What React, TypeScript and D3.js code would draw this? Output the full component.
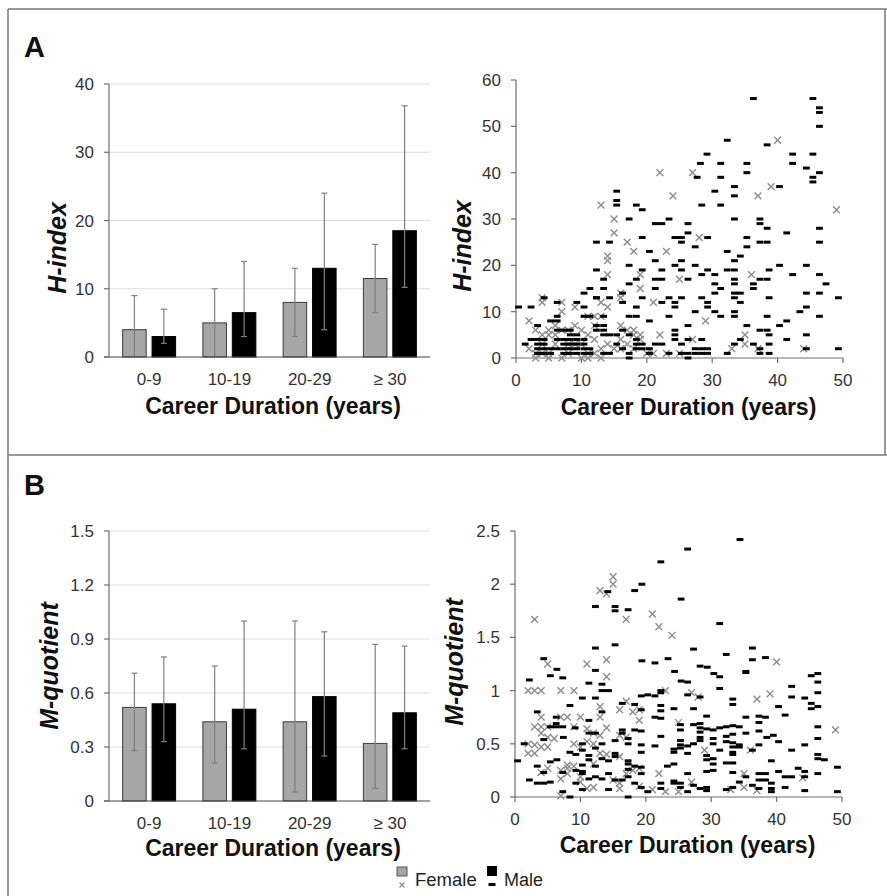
import React from 'react';
import * as d3 from 'd3';

const categories = ['0-9', '10-19', '20-29', '≥ 30'];

// panel A bars: H-index
const hFemale = [4, 5, 8, 11.5];
const hFemaleLow = [0, 0, 3, 6.5];
const hFemaleHigh = [9, 10, 13, 16.5];
const hMale = [3, 6.5, 13, 18.5];
const hMaleLow = [2, 3, 4, 10.2];
const hMaleHigh = [7, 14, 24, 36.8];

// panel B bars: M-quotient
const mFemale = [0.52, 0.44, 0.44, 0.32];
const mFemaleLow = [0.28, 0.21, 0.05, 0.07];
const mFemaleHigh = [0.71, 0.75, 1.0, 0.87];
const mMale = [0.54, 0.51, 0.58, 0.49];
const mMaleLow = [0.33, 0.29, 0.25, 0.29];
const mMaleHigh = [0.8, 1.0, 0.94, 0.86];

const hTicks = [0, 10, 20, 30, 40];
const mTicks = [0, 0.3, 0.6, 0.9, 1.2, 1.5];
const hScatterTicks = [0, 10, 20, 30, 40, 50, 60];
const mScatterTicks = [0, 0.5, 1, 1.5, 2, 2.5];
const durationTicks = [0, 10, 20, 30, 40, 50];

// scatter A: [career duration, H-index]
const hScatterMale: [number, number][] = [
  [36.3,56],[45.4,56],[46.4,54],[46.4,53],[46.4,50],[32.3,47],[38.4,46],[29.2,44],[42.3,44],[42.3,42],[45.4,44],[28.2,42],
  [31.3,42],[31.3,39],[35.3,42],[35.3,40],[44.4,41],[45.4,39],[45.4,38],[46.4,40],[27.7,39],[40.3,37],[33.4,37],[33.4,35],
  [30.4,36],[15.4,36],[15.4,34],[15.4,33],[28.4,33],[31.3,33],[18.4,33],[19.3,32],[23.4,30],[17.3,30],[33.4,30],[37.3,30],
  [37.3,29],[38.4,28],[46.4,28],[21.3,29],[22.3,29],[26.3,29],[41.4,27],[26.3,27],[24.3,26],[25.3,26],[25.3,25],[19.3,26],
  [29.3,26],[35.3,26],[35.3,24],[12.3,25],[14.3,25],[37.3,25],[38.4,25],[46.4,25],[27.4,24],[20.4,23],[32.3,23],[34.3,22],
  [33.4,21],[21.3,21],[25.3,21],[40.3,20],[44.4,20],[17.3,20],[24.3,20],[27.4,20],[12.3,19],[19.3,19],[22.3,19],[29.3,19],
  [32.3,19],[33.4,19],[38.7,19],[25.3,19],[21.3,17],[22.3,17],[26.3,17],[28.4,18],[30.4,18],[37.3,17],[38.4,17],[46.4,18],
  [42.3,18],[13.4,17],[18.4,17],[36.3,16],[47.4,16],[30.4,16],[31.3,15],[33.4,17],[33.4,16],[17.3,16],[36.3,15],[11.3,15],
  [21.3,15],[33.4,14],[34.3,14],[30.4,14],[46.4,14],[16.3,14],[10.4,14],[44.4,14],[12.3,13],[14.3,13],[19.3,13],[23.4,13],
  [25.3,13],[33.4,13],[38.7,13],[49.3,13],[16.3,12],[22.3,12],[24.3,12],[24.3,11],[34.3,12],[28.4,13],[29.3,12],[29.3,11],
  [2.3,11],[0.4,11],[10.4,11],[44.4,11],[18.4,11],[30.4,10],[27.4,10],[43.4,10],[31.3,9],[33.4,10],[33.4,9],[23.4,9],
  [46.4,9],[18.4,9],[17.3,9],[38.4,9],[20.4,8],[13.4,9],[11.3,9],[41.4,8],[40.3,7],[26.3,7],[35.3,7],[37.3,6],[38.4,6],
  [41.4,4],[38.7,5],[38.7,3],[44.4,5],[24.3,6],[24.3,5],[24.3,4],[25.3,3],[26.3,4],[28.4,4],[34.3,4],[32.3,1],[33.4,3],
  [36.3,3],[37.3,2],[37.3,1],[38.7,1],[49.3,2],[44.4,2],[27.4,2],[27.4,1],[28.4,1],[29.3,1],[28.4,2],[29.3,2],[25.3,1],
  [26.3,1],[26.3,0],[21.3,3],[22.3,3],[20.4,2],[20.4,1],[23.4,1],
  [1.4,3],[2.3,4],[3.3,2],[3.3,1],[3.3,3],[3.3,4],[3.3,7],[4.3,4],[4.3,3],[4.3,2],[4.3,1],[4.3,13],[5.3,2],[5.3,1],
  [6.3,2],[6.3,4],[6.3,8],[6.3,9],[7.3,3],[7.3,4],[7.3,2],[7.3,1],[6.3,12],[8.3,5],[8.3,6],[8.3,4],[8.3,3],[8.3,2],
  [8.3,1],[9.3,5],[9.3,4],[9.3,3],[9.3,2],[9.3,1],[10.4,4],[10.4,3],[10.4,2],[10.4,1],[11.3,1],[11.3,2],[10.4,9],
  [12.3,7],[12.3,6],[13.4,7],[13.4,6],[13.4,5],[13.4,1],[14.3,5],[14.3,1],[15.4,5],[15.4,3],[16.3,6],[16.3,2],[17.3,5],
  [17.3,1],[17.3,0],[18.4,4],[18.4,3],[18.4,2],[19.3,3],[19.3,2],[6.3,6],[7.3,6],[5.3,8],[9.3,12],[12.3,13],[13.4,15],
];
const hScatterFemale: [number, number][] = [
  [40,47],[22,40],[27,40],[39,37],[24,35],[37,35],[13,33],[49,32],[15,30],[15,27],[17,25],[28,26],[18,23],[23,23],
  [14,22],[14,21],[14,18],[36,18],[19,18],[25,17],[19,15],[16,14],[16,13],[21,12],[4,13],[4,12],[7,12],[14,11],
  [13,12],[9,11],[7,10],[2,8],[11,9],[13,9],[12,9],[29,8],[22,5],[35,5],[35,3],[27,4],[33,2],[37,2],[44,2],[23,1],
  [25,1],[2,2],[3,1],[3,0],[3,6],[4,3],[4,1],[5,5],[5,6],[5,1],[6,7],[6,3],[7,6],[7,0],[8,6],[8,1],[9,7],[9,3],
  [10,6],[10,0],[11,5],[11,1],[12,4],[12,7],[13,2],[13,0],[14,3],[16,4],[16,2],[17,6],[17,3],[18,6],[18,2],[19,5],
  [19,4],[16,7],[20,1],[21,1],[11,0],[5,0],[4,5],[6,5],[8,3],[10,3],[12,1],[15,2],[18,5],
];

// scatter B: [career duration, M-quotient]
const mScatterMale: [number, number][] = [
  [34.4,2.42],[26.4,2.33],[22.3,2.21],[19.4,2.0],[18.3,1.94],[14.2,1.93],[25.4,1.86],[12.3,1.79],[15.3,1.79],[15.3,1.75],
  [17.3,1.76],[31.3,1.63],[15.3,1.43],[12.3,1.4],[27.3,1.39],[36.3,1.4],[36.3,1.29],[32.3,1.34],[38.3,1.31],[23.4,1.3],
  [19.4,1.28],[21.4,1.26],[4.4,1.3],[12.3,1.19],[35.3,1.18],[35.3,1.17],[28.3,1.23],[29.4,1.22],[30.4,1.16],[31.3,1.13],
  [24.4,1.18],[46.3,1.16],[45.3,1.14],[46.3,1.08],[25.4,1.09],[26.4,1.08],[5.4,1.14],[6.4,1.2],[7.3,1.12],[2.2,1.1],
  [11.3,1.07],[13.3,1.06],[13.3,1.0],[14.3,1.0],[31.3,1.02],[42.3,1.04],[22.3,1.0],[22.3,0.98],[46.3,0.98],[19.3,0.95],
  [21.4,0.95],[20.3,0.96],[26.4,0.96],[28.3,0.94],[33.3,0.92],[33.3,0.87],[42.3,0.94],[44.3,0.93],[10.3,0.93],[12.3,0.93],
  [8.4,0.86],[45.3,0.88],[45.3,0.83],[46.3,0.85],[16.4,0.88],[24.3,0.83],[27.3,0.83],[22.3,0.86],[22.3,0.81],[18.3,0.87],
  [19.3,0.82],[40.3,0.85],[13.3,0.8],[3.4,0.8],[41.3,0.77],[29.3,0.76],[37.3,0.76],[38.3,0.75],[35.3,0.75],[6.3,0.75],
  [11.3,0.72],[21.4,0.75],[22.3,0.74],[37.3,0.7],[28.3,0.69],[27.3,0.68],[6.3,0.69],[6.3,0.66],[7.3,0.66],[5.4,0.66],
  [33.3,0.67],[34.3,0.66],[46.3,0.66],[30.3,0.63],[29.3,0.64],[18.3,0.63],[19.3,0.62],[25.3,0.68],[25.3,0.63],[28.3,0.65],
  [28.3,0.61],[31.3,0.65],[32.3,0.66],[9.2,0.65],[12.3,0.6],[11.3,0.6],[37.3,0.62],[35.3,0.6],[22.3,0.57],[16.4,0.6],
  [16.4,0.63],[39.5,0.58],[38.5,0.56],[15.3,0.53],[40.3,0.52],[46.3,0.55],[33.3,0.59],[32.3,0.57],[32.3,0.52],[33.3,0.51],
  [30.3,0.55],[30.3,0.5],[28.3,0.56],[28.3,0.53],[27.3,0.5],[25.3,0.53],[25.3,0.49],[25.3,0.46],[26.4,0.48],[26.4,0.41],
  [24.3,0.45],[24.3,0.42],[21.4,0.48],[19.3,0.49],[19.3,0.42],[17.3,0.55],[17.3,0.5],[13.3,0.5],[4.4,0.54],[1.4,0.5],
  [7.4,0.56],[10.3,0.5],[10.3,0.44],[12.3,0.46],[15.3,0.41],[15.3,0.38],[37.3,0.49],[31.3,0.44],[33.3,0.47],[33.3,0.42],
  [33.3,0.4],[34.3,0.49],[34.3,0.47],[36.3,0.44],[42.3,0.44],[44.3,0.49],[46.3,0.4],[46.3,0.36],[47.3,0.35],[39.2,0.34],
  [49.3,0.28],[30.3,0.36],[30.3,0.31],[29.3,0.39],[29.3,0.35],[32.3,0.32],[33.3,0.32],[24.3,0.31],[23.3,0.29],[19.3,0.28],
  [18.3,0.29],[17.3,0.34],[17.3,0.31],[14.3,0.34],[13.3,0.36],[11.3,0.39],[11.3,0.35],[9.3,0.4],[8.4,0.42],[6.4,0.35],
  [5.4,0.33],[3.4,0.29],[0.4,0.34],[12.3,0.29],[40.3,0.24],[43.3,0.27],[44.3,0.24],[44.3,0.19],[46.3,0.22],[38.3,0.22],
  [37.3,0.22],[33.3,0.23],[30.3,0.25],[29.3,0.24],[26.4,0.22],[19.3,0.22],[17.3,0.26],[17.3,0.19],[14.3,0.22],[10.3,0.3],
  [10.3,0.24],[10.3,0.22],[9.3,0.25],[7.3,0.23],[4.4,0.23],[4.4,0.13],[3.4,0.13],[2.2,0.16],[5.4,0.14],[41.3,0.19],
  [42.3,0.19],[38.3,0.16],[37.3,0.16],[39.2,0.13],[39.2,0.08],[39.2,0.05],[41.3,0.09],[44.3,0.06],[49.3,0.05],[35.3,0.19],
  [34.3,0.14],[36.3,0.11],[37.3,0.08],[32.3,0.07],[33.3,0.09],[29.3,0.09],[29.3,0.06],[27.3,0.11],[28.3,0.08],[25.3,0.13],
  [25.3,0.09],[26.4,0.05],[24.3,0.15],[24.3,0.13],[22.3,0.13],[22.3,0.08],[20.3,0.05],[19.3,0.09],[18.3,0.13],[16.4,0.16],
  [14.3,0.07],[15.3,0.16],[13.3,0.17],[12.3,0.19],[10.3,0.07],[11.3,0.17],[8.4,0.0],[7.3,0.05],[17.3,0.0],[9.3,0.13],
];
const mScatterFemale: [number, number][] = [
  [15,2.07],[15,2.0],[13,1.94],[14,1.91],[3,1.67],[17,1.67],[21,1.72],[22,1.6],[24,1.52],[14,1.29],[5,1.25],[11,1.25],
  [40,1.27],[14,1.13],[2,1.0],[3,1.0],[4,1.0],[7,1.0],[9,1.0],[23,1.0],[27,0.98],[28,0.94],[39,0.97],[37,0.92],
  [17,0.9],[13,0.85],[16,0.82],[19,0.82],[18,0.8],[4,0.75],[7,0.75],[8,0.75],[10,0.75],[13,0.75],[19,0.72],[25,0.7],
  [3,0.66],[4,0.66],[5,0.66],[9,0.66],[14,0.65],[11,0.64],[49,0.63],[4,0.6],[5,0.56],[6,0.55],[12,0.6],[13,0.58],
  [16,0.58],[17,0.56],[2,0.5],[3,0.49],[9,0.5],[10,0.47],[11,0.52],[12,0.5],[5,0.47],[4,0.47],[2,0.41],[3,0.41],
  [13,0.41],[14,0.4],[16,0.38],[36,0.44],[29,0.44],[4,0.23],[5,0.27],[7,0.25],[7,0.17],[8,0.27],[8,0.22],[10,0.19],
  [10,0.14],[12,0.31],[12,0.09],[15,0.16],[16,0.13],[16,0.08],[18,0.25],[19,0.27],[17,0.22],[19,0.1],[21,0.07],[22,0.22],
  [23,0.05],[25,0.05],[27,0.14],[33,0.07],[35,0.22],[35,0.09],[37,0.06],[44,0.18],[7,0.01],[11,0.08],[8,0.3],[9,0.29],
];

const FONT = '"Liberation Sans", Arial, sans-serif';
const FEMALE_FILL = '#a6a6a6';
const FEMALE_MARK = '#8c8c8c';
const AXIS = '#6e6e6e';
const GRID = '#dcdcdc';
const ERR = '#7f7f7f';
const TICK_FS = 17;
const TITLE_FS = 23;
const YLABEL_FS = 25;

type BarProps = {
  top: number; bottom: number; yMax: number; ticks: number[]; fmt: (v: number) => string;
  fem: number[]; femLo: number[]; femHi: number[];
  male: number[]; maleLo: number[]; maleHi: number[];
  yLabel: string; labelX: number; labelY: number; titleDy: number;
};

const BarChart = (p: BarProps) => {
  const left = 109, right = 430;
  const x = d3.scaleBand<string>().domain(categories).range([left, right]).paddingInner(0.34).paddingOuter(0.17);
  const sub = d3.scaleBand<string>().domain(['F', 'M']).range([0, x.bandwidth()]).paddingInner(0.2);
  const y = d3.scaleLinear().domain([0, p.yMax]).range([p.bottom, p.top]);
  const series = [
    { key: 'F', vals: p.fem, lo: p.femLo, hi: p.femHi, fill: FEMALE_FILL, stroke: '#3a3a3a' },
    { key: 'M', vals: p.male, lo: p.maleLo, hi: p.maleHi, fill: '#000', stroke: '#000' },
  ];
  return (
    <g>
      {p.ticks.filter(t => t > 0).map(t => (
        <line key={'g' + t} x1={left} x2={right} y1={y(t)} y2={y(t)} stroke={GRID} strokeWidth={1} />
      ))}
      {series.map(s => categories.map((c, i) => {
        const bx = (x(c) as number) + (sub(s.key) as number);
        const cx = bx + sub.bandwidth() / 2;
        return (
          <g key={s.key + c}>
            <rect x={bx} y={y(s.vals[i])} width={sub.bandwidth()} height={y(0) - y(s.vals[i])}
              fill={s.fill} stroke={s.stroke} strokeWidth={1} />
            <line x1={cx} x2={cx} y1={y(s.lo[i])} y2={y(s.hi[i])} stroke={ERR} strokeWidth={1.2} />
            <line x1={cx - 3} x2={cx + 3} y1={y(s.hi[i])} y2={y(s.hi[i])} stroke={ERR} strokeWidth={1.2} />
            <line x1={cx - 3} x2={cx + 3} y1={y(s.lo[i])} y2={y(s.lo[i])} stroke={ERR} strokeWidth={1.2} />
          </g>
        );
      }))}
      <line x1={left} x2={left} y1={p.top} y2={p.bottom} stroke={AXIS} strokeWidth={1.2} />
      <line x1={left - 5} x2={right} y1={p.bottom} y2={p.bottom} stroke={'#444'} strokeWidth={1.2} />
      {p.ticks.map(t => (
        <g key={'t' + t}>
          <line x1={left - 5} x2={left} y1={y(t)} y2={y(t)} stroke={AXIS} strokeWidth={1.2} />
          <text x={left - 15} y={y(t) + 6} textAnchor="end" fontSize={TICK_FS} fill="#333">{p.fmt(t)}</text>
        </g>
      ))}
      {categories.map(c => (
        <text key={'c' + c} x={(x(c) as number) + x.bandwidth() / 2} y={p.bottom + 28} textAnchor="middle" fontSize={TICK_FS} fill="#333">{c}</text>
      ))}
      <text x={273} y={p.bottom + p.titleDy} textAnchor="middle" fontSize={TITLE_FS} fontWeight="bold" fill="#111">Career Duration (years)</text>
      <text transform={`translate(${p.labelX},${p.labelY}) rotate(-90)`} textAnchor="middle" fontSize={YLABEL_FS} fontWeight="bold" fontStyle="italic" fill="#111">{p.yLabel}</text>
    </g>
  );
};

type ScatterProps = {
  left: number; right: number; top: number; bottom: number; yMax: number; ticks: number[];
  fmt: (v: number) => string; male: [number, number][]; female: [number, number][];
  yLabel: string; labelX: number; labelY: number; titleDy: number;
};

const Scatter = (p: ScatterProps) => {
  const x = d3.scaleLinear().domain([0, 50]).range([p.left, p.right]);
  const y = d3.scaleLinear().domain([0, p.yMax]).range([p.bottom, p.top]);
  return (
    <g>
      <line x1={p.left} x2={p.left} y1={p.top} y2={p.bottom} stroke={AXIS} strokeWidth={1.2} />
      <line x1={p.left} x2={p.right} y1={p.bottom} y2={p.bottom} stroke={AXIS} strokeWidth={1.2} />
      {p.ticks.map(t => (
        <g key={'y' + t}>
          <line x1={p.left - 5} x2={p.left} y1={y(t)} y2={y(t)} stroke={AXIS} strokeWidth={1.2} />
          <text x={p.left - 15} y={y(t) + 6} textAnchor="end" fontSize={TICK_FS} fill="#333">{p.fmt(t)}</text>
        </g>
      ))}
      {durationTicks.map(t => (
        <g key={'x' + t}>
          <line x1={x(t)} x2={x(t)} y1={p.bottom} y2={p.bottom + 5} stroke={AXIS} strokeWidth={1.2} />
          <text x={x(t)} y={p.bottom + 28} textAnchor="middle" fontSize={TICK_FS} fill="#333">{t}</text>
        </g>
      ))}
      {p.female.map((d, i) => {
        const cx = x(d[0]), cy = y(d[1]);
        return (
          <path key={'f' + i} d={`M${cx - 3.4},${cy - 3.4}L${cx + 3.4},${cy + 3.4}M${cx - 3.4},${cy + 3.4}L${cx + 3.4},${cy - 3.4}`}
            stroke={FEMALE_MARK} strokeWidth={1.4} fill="none" />
        );
      })}
      {p.male.map((d, i) => (
        <rect key={'m' + i} x={x(d[0]) - 3.4} y={y(d[1]) - 1.5} width={6.8} height={3} fill="#000" />
      ))}
      <text x={(p.left + p.right) / 2 + 9} y={p.bottom + p.titleDy} textAnchor="middle" fontSize={TITLE_FS} fontWeight="bold" fill="#111">Career Duration (years)</text>
      <text transform={`translate(${p.labelX},${p.labelY}) rotate(-90)`} textAnchor="middle" fontSize={YLABEL_FS} fontWeight="bold" fontStyle="italic" fill="#111">{p.yLabel}</text>
    </g>
  );
};

const fmtPlain = (v: number) => d3.format('~g')(v);

export default function App() {
  return (
    <svg width={887} height={896} style={{ position: 'absolute', left: 0, top: 0, fontFamily: FONT }}>
      <rect x={0} y={0} width={887} height={896} fill="#fff" />
      <line x1={8} x2={887} y1={9} y2={9} stroke="#777" strokeWidth={1.5} />
      <line x1={8} x2={8} y1={9} y2={896} stroke="#777" strokeWidth={1.5} />
      <line x1={885} x2={885} y1={9} y2={455} stroke="#777" strokeWidth={1.5} />
      <line x1={8} x2={887} y1={455} y2={455} stroke="#777" strokeWidth={1.5} />

      <text x={24} y={57} fontSize={29} fontWeight="bold" fill="#111">A</text>
      <text x={24} y={495} fontSize={29} fontWeight="bold" fill="#111">B</text>

      <BarChart top={84} bottom={357} yMax={40} ticks={hTicks} fmt={fmtPlain}
        fem={hFemale} femLo={hFemaleLow} femHi={hFemaleHigh}
        male={hMale} maleLo={hMaleLow} maleHi={hMaleHigh} yLabel="H-index" labelX={66} labelY={248} titleDy={57} />
      <BarChart top={531} bottom={801} yMax={1.5} ticks={mTicks} fmt={fmtPlain}
        fem={mFemale} femLo={mFemaleLow} femHi={mFemaleHigh}
        male={mMale} maleLo={mMaleLow} maleHi={mMaleHigh} yLabel="M-quotient" labelX={58} labelY={666} titleDy={55} />

      <Scatter left={516} right={843} top={80} bottom={358} yMax={60} ticks={hScatterTicks} fmt={fmtPlain}
        male={hScatterMale} female={hScatterFemale} yLabel="H-index" labelX={471} labelY={246} titleDy={57} />
      <Scatter left={515} right={842} top={531} bottom={797} yMax={2.5} ticks={mScatterTicks} fmt={fmtPlain}
        male={mScatterMale} female={mScatterFemale} yLabel="M-quotient" labelX={463} labelY={662} titleDy={56} />

      <g>
        <rect x={397} y={867} width={10} height={9} fill={FEMALE_FILL} stroke="#555" strokeWidth={1} />
        <path d="M399.5,882.5L404.5,887.5M399.5,887.5L404.5,882.5" stroke={FEMALE_MARK} strokeWidth={1.2} />
        <text x={415} y={886} fontSize={18.5} fill="#222">Female</text>
        <rect x={487} y={866} width={10} height={10} fill="#000" />
        <rect x={488.5} y={883} width={7} height={3} fill="#000" />
        <text x={504} y={886} fontSize={18} fill="#222">Male</text>
      </g>
    </svg>
  );
}
